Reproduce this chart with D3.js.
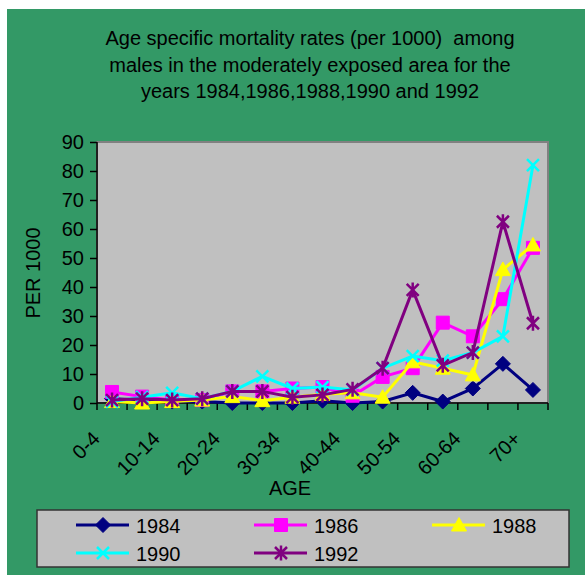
<!DOCTYPE html>
<html lang="en">
<head>
<meta charset="utf-8">
<title>Age specific mortality rates</title>
<style>
  body { margin: 0; background: #fff; }
  text { font-family: "Liberation Sans", Arial, sans-serif; fill: #000; }
  .line { fill: none; stroke-width: 3px; }
</style>
</head>
<body>
<svg id="chart" width="585" height="575"></svg>
<script src="https://cdn.jsdelivr.net/npm/d3@7"></script>
<script>

// data
var ages = ["0-4", "5-9", "10-14", "15-19", "20-24", "25-29", "30-34", "35-39",
            "40-44", "45-49", "50-54", "55-59", "60-64", "65-69", "70+"];
var years = ["1984", "1986", "1988", "1990", "1992"];
var s1984 = [1.5, 1, 0.5, 0.5, 0, 0, 0, 0.8, 0, 0.5, 3.5, 0.5, 5, 13.5, 4.5];
var s1986 = [3.8, 2.2, 1, 1, 4, 4, 5, 5.5, 2.5, 9, 12, 27.7, 23, 35.8, 53.5];
var s1988 = [0.5, 0, 0.5, 1, 2.2, 0.8, 2, 3, 3.5, 2, 14.2, 12, 9.7, 46, 54.5];
var s1990 = [0.5, 2, 3.5, 1.5, 4, 9.2, 5, 5.5, 4.5, 12, 16.2, 14.6, 17.4, 23, 82];
var s1992 = [1, 1.5, 1, 1.5, 4, 4, 2, 2.8, 4.7, 12, 39, 13, 17.4, 62.5, 27.5];
var yTicks = [0, 10, 20, 30, 40, 50, 60, 70, 80, 90];
var titleLines = ["Age specific mortality rates (per 1000)  among",
                  "males in the moderately exposed area for the",
                  "years 1984,1986,1988,1990 and 1992"];

var series = [
  {id: years[0], values: s1984, color: "#000080", marker: "diamond"},
  {id: years[1], values: s1986, color: "#ff00ff", marker: "square"},
  {id: years[2], values: s1988, color: "#ffff00", marker: "triangle"},
  {id: years[3], values: s1990, color: "#00ffff", marker: "x"},
  {id: years[4], values: s1992, color: "#800080", marker: "star"}
];

var svg = d3.select("#chart");
var plot = {left: 97, top: 142, right: 548, bottom: 403};
var fontSize = "20px";

// green page
svg.append("rect")
    .attr("x", 7).attr("y", 9)
    .attr("width", 578).attr("height", 566)
    .attr("fill", "#339966");

// title
svg.append("g").selectAll("text")
    .data(titleLines)
  .enter().append("text")
    .attr("x", 310)
    .attr("y", function(d, i) { return 45 + i * 26.7; })
    .attr("text-anchor", "middle")
    .style("font-size", fontSize)
    .style("white-space", "pre")
    .text(function(d) { return d; });

var xScale = d3.scaleBand().domain(ages).range([plot.left, plot.right]).padding(0);
var yScale = d3.scaleLinear().domain([0, 90]).range([plot.bottom, plot.top]);
var cx = function(a) { return xScale(a) + xScale.bandwidth() / 2; };

// plot area
svg.append("rect")
    .attr("x", plot.left).attr("y", plot.top)
    .attr("width", plot.right - plot.left).attr("height", plot.bottom - plot.top)
    .attr("fill", "#c0c0c0")
    .attr("stroke", "#808080")
    .attr("stroke-width", 2);

// y axis
var yAxis = svg.append("g")
    .attr("transform", "translate(" + plot.left + ",0)")
    .call(d3.axisLeft(yScale).tickValues(yTicks).tickSize(7).tickPadding(6));
yAxis.selectAll("text").style("font-size", fontSize).attr("fill", "#000");
yAxis.selectAll("line, path").attr("stroke", "#000").attr("stroke-width", 1.5);
yAxis.select(".domain").attr("d", "M0," + plot.top + "V" + plot.bottom);

svg.append("text")
    .attr("transform", "translate(40,273) rotate(-90)")
    .attr("text-anchor", "middle")
    .style("font-size", fontSize)
    .text("PER 1000");

// x axis: ticks between categories, every second label
var xAxis = svg.append("g");
xAxis.append("line")
    .attr("x1", plot.left).attr("x2", plot.right)
    .attr("y1", plot.bottom).attr("y2", plot.bottom)
    .attr("stroke", "#000").attr("stroke-width", 1.5);
xAxis.selectAll(".tick")
    .data(ages.concat([null]))
  .enter().append("line")
    .attr("x1", function(d) { return d === null ? plot.right : xScale(d); })
    .attr("x2", function(d) { return d === null ? plot.right : xScale(d); })
    .attr("y1", plot.bottom).attr("y2", plot.bottom + 7)
    .attr("stroke", "#000").attr("stroke-width", 1.5);
xAxis.selectAll(".xlabel")
    .data(ages.filter(function(d, i) { return i % 2 === 0; }))
  .enter().append("text")
    .attr("transform", function(d) { return "translate(" + (cx(d) - 11) + ",440) rotate(-45)"; })
    .attr("text-anchor", "end")
    .style("font-size", fontSize)
    .text(function(d) { return d; });

svg.append("text")
    .attr("x", 290).attr("y", 495)
    .attr("text-anchor", "middle")
    .style("font-size", fontSize)
    .text("AGE");

// markers
function markerPath(type) {
  switch (type) {
    case "diamond": return "M0,-7.5L7.5,0L0,7.5L-7.5,0Z";
    case "square": return "M-6.5,-6.5H6.5V6.5H-6.5Z";
    case "triangle": return "M0,-7.5L7.5,6L-7.5,6Z";
    case "x": return "M-6,-6L6,6M6,-6L-6,6";
    case "star": return "M-6,-6L6,6M6,-6L-6,6M0,-7.5V7.5";
  }
}
function drawMarker(sel, s) {
  var filled = s.marker === "diamond" || s.marker === "square" || s.marker === "triangle";
  sel.attr("d", markerPath(s.marker))
    .attr("fill", filled ? s.color : "none")
    .attr("stroke", s.color)
    .attr("stroke-width", filled ? 1 : 2.5);
}

var line = d3.line()
    .x(function(d, i) { return cx(ages[i]); })
    .y(function(d) { return yScale(d); });

var seriesG = svg.selectAll(".series")
    .data(series)
  .enter().append("g")
    .attr("class", "series");

seriesG.append("path")
    .attr("class", "line")
    .attr("d", function(d) { return line(d.values); })
    .attr("stroke", function(d) { return d.color; });

seriesG.each(function(s) {
  d3.select(this).selectAll(".pt")
      .data(s.values)
    .enter().append("path")
      .attr("transform", function(d, i) { return "translate(" + cx(ages[i]) + "," + yScale(d) + ")"; })
      .call(drawMarker, s);
});

// legend
var legend = svg.append("g");
legend.append("rect")
    .attr("x", 37).attr("y", 510)
    .attr("width", 532).attr("height", 57)
    .attr("fill", "#c0c0c0")
    .attr("stroke", "#333").attr("stroke-width", 1.5);

var colX = [76, 254, 432];
var rowY = [525, 553];
var item = legend.selectAll(".item")
    .data(series)
  .enter().append("g")
    .attr("transform", function(d, i) {
      return "translate(" + colX[i % 3] + "," + rowY[Math.floor(i / 3)] + ")";
    });
item.append("line")
    .attr("x1", 0).attr("x2", 53)
    .attr("stroke", function(d) { return d.color; })
    .attr("stroke-width", 3);
item.append("path")
    .attr("transform", "translate(27,0)")
    .each(function(s) { d3.select(this).call(drawMarker, s); });
item.append("text")
    .attr("x", 60).attr("y", 7.5)
    .style("font-size", fontSize)
    .text(function(d) { return d.id; });

</script>
</body>
</html>
